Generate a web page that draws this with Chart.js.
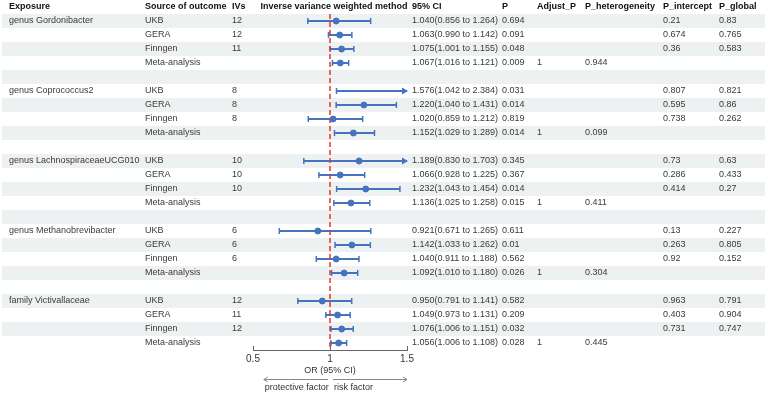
<!DOCTYPE html>
<html>
<head>
<meta charset="utf-8">
<script src="https://cdn.jsdelivr.net/npm/chart.js@4/dist/chart.umd.min.js"></script>
<style>
  html, body { margin: 0; padding: 0; background: #fff; }
  #wrap { width: 767px; height: 395px; }
</style>
</head>
<body>
<div id="wrap"><canvas id="forest" width="767" height="395"></canvas></div>
<script>
'use strict'

// table data, one entry per result row
const exposures = ["genus Gordonibacter", "genus Coprococcus2", "genus LachnospiraceaeUCG010", "genus Methanobrevibacter", "family Victivallaceae"];
const sources = ["UKB", "GERA", "Finngen", "Meta-analysis"];
const ivs = ["12", "12", "11", "", "8", "8", "8", "", "10", "10", "10", "", "6", "6", "6", "", "12", "11", "12", ""];
const orValues = [1.040, 1.063, 1.075, 1.067, 1.576, 1.220, 1.020, 1.152, 1.189, 1.066, 1.232, 1.136, 0.921, 1.142, 1.040, 1.092, 0.950, 1.049, 1.076, 1.056];
const lowerCI = [0.856, 0.990, 1.001, 1.016, 1.042, 1.040, 0.859, 1.029, 0.830, 0.928, 1.043, 1.025, 0.671, 1.033, 0.911, 1.010, 0.791, 0.973, 1.006, 1.006];
const upperCI = [1.264, 1.142, 1.155, 1.121, 2.384, 1.431, 1.212, 1.289, 1.703, 1.225, 1.454, 1.258, 1.265, 1.262, 1.188, 1.180, 1.141, 1.131, 1.151, 1.108];
const pValues = ["0.694", "0.091", "0.048", "0.009", "0.031", "0.014", "0.819", "0.014", "0.345", "0.367", "0.014", "0.015", "0.611", "0.01", "0.562", "0.026", "0.582", "0.209", "0.032", "0.028"];
const adjustP = ["", "", "", "1", "", "", "", "1", "", "", "", "1", "", "", "", "1", "", "", "", "1"];
const pHeterogeneity = ["", "", "", "0.944", "", "", "", "0.099", "", "", "", "0.411", "", "", "", "0.304", "", "", "", "0.445"];
const pIntercept = ["0.21", "0.674", "0.36", "", "0.807", "0.595", "0.738", "", "0.73", "0.286", "0.414", "", "0.13", "0.263", "0.92", "", "0.963", "0.403", "0.731", ""];
const pGlobal = ["0.83", "0.765", "0.583", "", "0.821", "0.86", "0.262", "", "0.63", "0.433", "0.27", "", "0.227", "0.805", "0.152", "", "0.791", "0.904", "0.747", ""];
const xTicks = [0.5, 1, 1.5];

const FONT = '"Liberation Sans", Arial, sans-serif';
const BLUE = '#4474bd';
const TOTAL_ROWS = 24;

// result k -> table row (4 rows per exposure + one blank row between)
const rowOf = k => Math.floor(k / 4) * 5 + (k % 4);

const points = orValues.map((v, k) => ({ x: v, y: rowOf(k) }));

const cols = {
    exposure: 9, source: 145, ivs: 232, forest: 334, ci: 412,
    p: 502, adj: 537, het: 585, inter: 663, glob: 719
};

const forestPlugin = {
    id: 'forest',
    beforeDatasetsDraw(chart) {
        const { ctx, scales: { x, y } } = chart;
        ctx.save();
        // zebra rows
        ctx.fillStyle = '#eef1f1';
        for (let r = 0; r < TOTAL_ROWS; r += 2) {
            const cy = y.getPixelForValue(r);
            ctx.fillRect(2, cy - 7, 763, 14);
        }
        // confidence intervals
        ctx.strokeStyle = BLUE;
        ctx.fillStyle = BLUE;
        ctx.lineWidth = 2;
        orValues.forEach((v, k) => {
            const cy = y.getPixelForValue(rowOf(k));
            const lo = Math.max(lowerCI[k], x.min);
            const hi = Math.min(upperCI[k], x.max);
            const x0 = x.getPixelForValue(lo);
            const x1 = x.getPixelForValue(hi);
            ctx.beginPath();
            ctx.moveTo(x0, cy);
            ctx.lineTo(x1, cy);
            ctx.stroke();
            ctx.lineWidth = 1.5;
            ctx.beginPath();
            ctx.moveTo(x0, cy - 3); ctx.lineTo(x0, cy + 3);
            if (upperCI[k] <= x.max) {
                ctx.moveTo(x1, cy - 3); ctx.lineTo(x1, cy + 3);
            }
            ctx.stroke();
            ctx.lineWidth = 2;
            if (upperCI[k] > x.max) {
                ctx.beginPath();
                ctx.moveTo(x1 + 1, cy);
                ctx.lineTo(x1 - 5, cy - 3.5);
                ctx.lineTo(x1 - 5, cy + 3.5);
                ctx.closePath();
                ctx.fill();
            }
        });
        ctx.restore();
    },
    afterDraw(chart) {
        const { ctx, scales: { x, y } } = chart;
        ctx.save();
        ctx.textBaseline = 'middle';

        // header
        const hy = y.getPixelForValue(-1);
        ctx.fillStyle = '#111';
        ctx.font = 'bold 9px ' + FONT;
        ctx.textAlign = 'left';
        ctx.fillText('Exposure', cols.exposure, hy);
        ctx.fillText('Source of outcome', cols.source, hy);
        ctx.fillText('IVs', cols.ivs, hy);
        ctx.fillText('95% CI', cols.ci, hy);
        ctx.fillText('P', cols.p, hy);
        ctx.fillText('Adjust_P', cols.adj, hy);
        ctx.fillText('P_heterogeneity', cols.het, hy);
        ctx.fillText('P_intercept', cols.inter, hy);
        ctx.fillText('P_global', cols.glob, hy);
        ctx.textAlign = 'center';
        ctx.fillText('Inverse variance weighted method', cols.forest, hy);

        // body
        ctx.fillStyle = '#3a3a3a';
        ctx.font = '9px ' + FONT;
        ctx.textAlign = 'left';
        exposures.forEach((name, g) => {
            ctx.fillText(name, cols.exposure, y.getPixelForValue(g * 5));
        });
        orValues.forEach((v, k) => {
            const cy = y.getPixelForValue(rowOf(k));
            ctx.fillText(sources[k % 4], cols.source, cy);
            ctx.fillText(ivs[k], cols.ivs, cy);
            ctx.fillText(v.toFixed(3) + '(' + lowerCI[k].toFixed(3) + ' to ' + upperCI[k].toFixed(3) + ')', cols.ci, cy);
            ctx.fillText(pValues[k], cols.p, cy);
            ctx.fillText(adjustP[k], cols.adj, cy);
            ctx.fillText(pHeterogeneity[k], cols.het, cy);
            ctx.fillText(pIntercept[k], cols.inter, cy);
            ctx.fillText(pGlobal[k], cols.glob, cy);
        });

        // upward tick marks on the x axis
        const base = chart.chartArea.bottom;
        ctx.strokeStyle = '#666';
        ctx.lineWidth = 1;
        ctx.beginPath();
        xTicks.forEach(t => {
            const px = Math.round(x.getPixelForValue(t)) + 0.5;
            ctx.moveTo(px, base);
            ctx.lineTo(px, base - 4);
        });
        ctx.stroke();

        // axis title and direction arrows
        const mid = x.getPixelForValue(1);
        ctx.fillStyle = '#333';
        ctx.textAlign = 'center';
        ctx.font = '9px ' + FONT;
        ctx.fillText('OR (95% CI)', mid, 371);

        const ay = 379.5;
        const left = x.getPixelForValue(0.57);
        const right = x.getPixelForValue(1.5);
        ctx.strokeStyle = '#888';
        ctx.beginPath();
        ctx.moveTo(mid - 2, ay); ctx.lineTo(left, ay);
        ctx.moveTo(left + 4, ay - 2.5); ctx.lineTo(left, ay); ctx.lineTo(left + 4, ay + 2.5);
        ctx.moveTo(mid + 3, ay); ctx.lineTo(right, ay);
        ctx.moveTo(right - 4, ay - 2.5); ctx.lineTo(right, ay); ctx.lineTo(right - 4, ay + 2.5);
        ctx.stroke();

        ctx.textAlign = 'left';
        ctx.fillText('protective factor', left + 1, 388);
        ctx.fillText('risk factor', mid + 4, 388);
        ctx.restore();
    }
};

new Chart(document.getElementById('forest'), {
    type: 'scatter',
    data: {
        datasets: [{
            label: 'IVW',
            data: points,
            backgroundColor: BLUE,
            borderColor: BLUE,
            pointRadius: 3,
            pointHoverRadius: 3,
            clip: 3,
            order: 1
        }, {
            label: 'null',
            type: 'line',
            data: [{ x: 1, y: -0.5 }, { x: 1, y: TOTAL_ROWS - 0.5 }],
            borderColor: '#e8342b',
            borderWidth: 1.5,
            borderDash: [5, 3],
            pointRadius: 0,
            order: 2
        }]
    },
    options: {
        responsive: false,
        devicePixelRatio: 1,
        animation: false,
        events: [],
        layout: { padding: { left: 253, right: 360, top: 14, bottom: 0 } },
        plugins: { legend: { display: false }, tooltip: { enabled: false } },
        scales: {
            x: {
                type: 'linear',
                min: 0.5,
                max: 1.5,
                afterBuildTicks: s => { s.ticks = xTicks.map(v => ({ value: v })); },
                afterFit: s => { s.height = 45; },
                grid: { display: false, drawTicks: false },
                border: { display: true, color: '#666', width: 1 },
                ticks: {
                    padding: 3,
                    color: '#333',
                    font: { family: FONT, size: 10 },
                    callback: v => String(v)
                }
            },
            y: {
                type: 'linear',
                display: false,
                reverse: true,
                min: -0.5,
                max: TOTAL_ROWS - 0.5
            }
        }
    },
    plugins: [forestPlugin]
});
</script>
</body>
</html>
